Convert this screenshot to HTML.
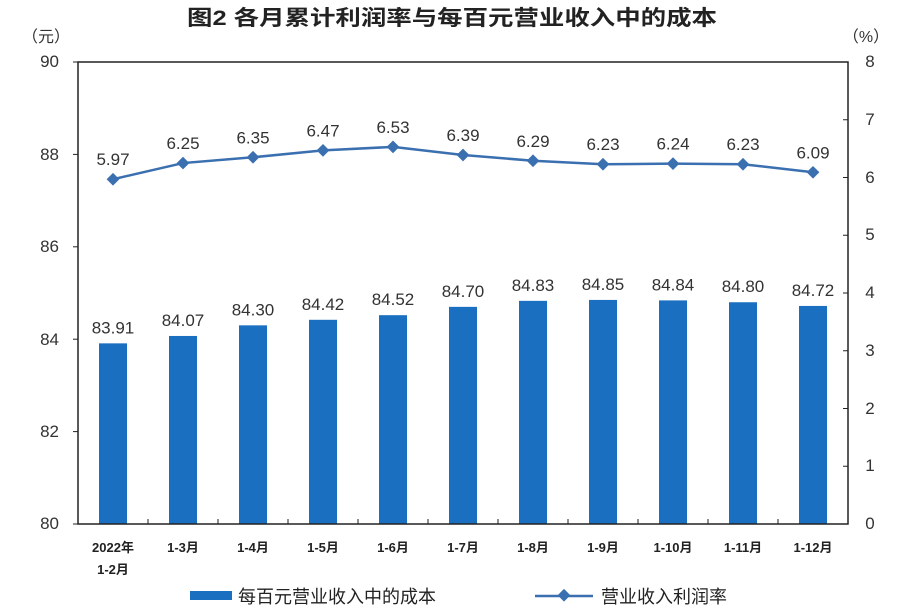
<!DOCTYPE html>
<html><head><meta charset="utf-8"><style>body{margin:0;background:#fff}svg{display:block}text{font-family:"Liberation Sans","Noto Sans CJK SC",sans-serif}</style></head><body>
<svg width="900" height="611" xmlns="http://www.w3.org/2000/svg">
<text x="452" y="25" font-size="21" text-anchor="middle" font-weight="bold" fill="#222" font-family="'Liberation Sans','Noto Sans CJK SC',sans-serif" textLength="530" lengthAdjust="spacingAndGlyphs">图2  各月累计利润率与每百元营业收入中的成本</text>
<text x="46" y="42" font-size="16" text-anchor="middle" fill="#333">（元）</text>
<text x="866" y="42" font-size="16" text-anchor="middle" fill="#333">（%）</text>
<g font-size="17" fill="#333" text-anchor="end">
<text x="59" y="67">90</text><text x="59" y="160">88</text><text x="59" y="252">86</text><text x="59" y="345">84</text><text x="59" y="437">82</text><text x="59" y="529">80</text>
</g>
<g font-size="17" fill="#333" text-anchor="middle">
<text x="870" y="67">8</text><text x="870" y="125">7</text><text x="870" y="183">6</text><text x="870" y="240">5</text><text x="870" y="298">4</text><text x="870" y="356">3</text><text x="870" y="414">2</text><text x="870" y="471">1</text><text x="870" y="529">0</text>
</g>
<g fill="#1a6fc0" id="bars"></g>
<rect x="78" y="62" width="770" height="462" fill="none" stroke="#222" stroke-width="1.5"/>
<g id="ticks" stroke="#222" stroke-width="1"></g>
<g id="line"></g>
<g font-size="13" fill="#222" text-anchor="middle" font-weight="bold">
<text x="113" y="552">2022年</text><text x="113" y="574">1-2月</text>
<text x="183" y="552">1-3月</text><text x="253" y="552">1-4月</text><text x="323" y="552">1-5月</text><text x="393" y="552">1-6月</text><text x="463" y="552">1-7月</text><text x="533" y="552">1-8月</text><text x="603" y="552">1-9月</text><text x="673" y="552">1-10月</text><text x="743" y="552">1-11月</text><text x="813" y="552">1-12月</text>
</g>
<rect x="190" y="591" width="42" height="9" fill="#1a6fc0"/>
<text x="238" y="603" font-size="18" fill="#222">每百元营业收入中的成本</text>
<line x1="535" y1="596" x2="593" y2="596" stroke="#3a6fb0" stroke-width="2.5"/>
<rect x="559" y="591" width="9" height="9" fill="#3a6fb0" transform="rotate(45 564 596)"/>
<text x="601" y="603" font-size="18" fill="#222">营业收入利润率</text>
<script>
var b=[83.91,84.07,84.30,84.42,84.52,84.70,84.83,84.85,84.84,84.80,84.72];
var l=[5.97,6.25,6.35,6.47,6.53,6.39,6.29,6.23,6.24,6.23,6.09];
var ns="http://www.w3.org/2000/svg",s=document.querySelector('svg');
function el(t,a,p,txt){var e=document.createElementNS(ns,t);for(var k in a)e.setAttribute(k,a[k]);if(txt)e.textContent=txt;(p||s).appendChild(e);return e;}
var gb=document.getElementById('bars'),gt=document.getElementById('ticks'),gl=document.getElementById('line');
var pts=[];
for(var i=0;i<11;i++){var cx=113+70*i;var y=524-(b[i]-80)*46.2;
el('rect',{x:cx-14,y:y,width:28,height:524-y},gb);
el('text',{x:cx,y:y-10,'font-size':17,'text-anchor':'middle',fill:'#333'},s,b[i].toFixed(2));
var ly=524-l[i]*57.75;pts.push(cx+','+ly);
el('text',{x:cx,y:ly-14,'font-size':17,'text-anchor':'middle',fill:'#333'},s,l[i].toFixed(2));}
for(var i=1;i<11;i++)el('line',{x1:78+70*i,y1:524,x2:78+70*i,y2:519},gt);
for(var v=0;v<=5;v++){var y=62+v*92.4;el('line',{x1:73,y1:y,x2:78,y2:y},gt);}
for(var v=0;v<=8;v++){var y=62+v*57.75;el('line',{x1:843,y1:y,x2:848,y2:y},gt);}
el('polyline',{points:pts.join(' '),fill:'none',stroke:'#3a6fb0','stroke-width':2.5},gl);
pts.forEach(function(p){var c=p.split(',');el('rect',{x:c[0]-4.5,y:c[1]-4.5,width:9,height:9,fill:'#3a6fb0',transform:'rotate(45 '+c[0]+' '+c[1]+')'},gl);});
</script>
</svg>
</body></html>
